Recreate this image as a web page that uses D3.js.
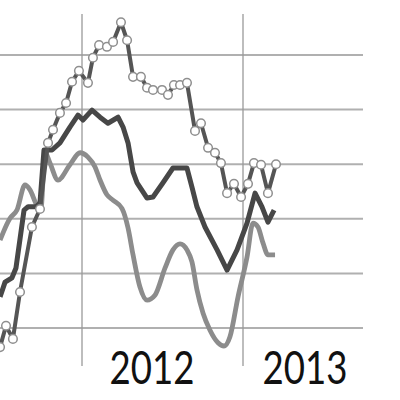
<!DOCTYPE html>
<html>
<head>
<meta charset="utf-8">
<script src="https://cdnjs.cloudflare.com/ajax/libs/d3/7.8.5/d3.min.js"></script>
<style>
  html, body { margin: 0; padding: 0; background: #fff; }
  svg { display: block; }
</style>
</head>
<body>
<div id="chart"></div>
<script>
// decimal years, values
const seriesAYears = [2011.491, 2011.528, 2011.571, 2011.615, 2011.689, 2011.739, 2011.789, 2011.820, 2011.863, 2011.901,
  2011.938, 2011.981, 2012.037, 2012.068, 2012.106, 2012.155, 2012.193, 2012.242, 2012.280, 2012.317,
  2012.366, 2012.404, 2012.441, 2012.497, 2012.534, 2012.571, 2012.609, 2012.652, 2012.702, 2012.739,
  2012.783, 2012.826, 2012.863, 2012.901, 2012.944, 2012.988, 2013.031, 2013.068, 2013.112, 2013.155, 2013.205];
const seriesAValues = [-3.5, 0.4, -2.0, 6.6, 18.5, 21.8, 33.9, 36.3, 39.4, 41.2,
  45.1, 47.1, 44.9, 49.5, 51.8, 51.5, 52.4, 56.0, 52.7, 46.0,
  46.0, 44.0, 43.6, 43.6, 42.7, 44.5, 44.5, 44.9, 36.1, 37.5,
  33.0, 32.1, 30.2, 24.7, 26.4, 24.0, 26.4, 30.2, 29.9, 24.7, 30.0];

const seriesBYears = [2011.491, 2011.522, 2011.565, 2011.590, 2011.640, 2011.665, 2011.714, 2011.739, 2011.764, 2011.814,
  2011.863, 2011.925, 2011.975, 2012.006, 2012.062, 2012.112, 2012.161, 2012.224, 2012.255, 2012.286,
  2012.317, 2012.342, 2012.404, 2012.441, 2012.503, 2012.565, 2012.652, 2012.683, 2012.714, 2012.764,
  2012.839, 2012.901, 2012.963, 2013.025, 2013.075, 2013.118, 2013.155, 2013.193];
const seriesBValues = [5.7, 8.4, 9.2, 11.0, 21.6, 22.2, 22.2, 22.9, 32.6, 32.6,
  33.9, 36.8, 39.0, 38.1, 39.9, 38.6, 37.5, 38.6, 36.8, 33.9,
  28.6, 26.6, 23.8, 24.0, 26.6, 29.3, 29.3, 25.8, 22.2, 18.5,
  14.3, 10.6, 14.3, 19.2, 24.7, 22.2, 19.4, 21.6];

const seriesCYears = [2011.491, 2011.553, 2011.596, 2011.646, 2011.677, 2011.720, 2011.745, 2011.770, 2011.801, 2011.851,
  2011.925, 2011.988, 2012.037, 2012.081, 2012.112, 2012.155, 2012.193, 2012.248, 2012.286, 2012.317,
  2012.360, 2012.404, 2012.453, 2012.516, 2012.565, 2012.609, 2012.652, 2012.683, 2012.714, 2012.752,
  2012.795, 2012.845, 2012.882, 2012.919, 2012.969, 2013.025, 2013.062, 2013.093, 2013.124, 2013.155, 2013.199];
const seriesCValues = [16.1, 20.1, 21.6, 26.2, 25.3, 22.5, 21.9, 32.2, 30.2, 27.1,
  29.9, 32.1, 31.3, 29.5, 27.1, 24.4, 23.4, 21.9, 18.3, 13.4,
  7.5, 5.1, 6.0, 11.0, 14.3, 15.4, 14.3, 12.1, 7.0, 2.7,
  -0.4, -2.7, -3.3, -1.6, 5.7, 13.0, 19.2, 18.5, 15.6, 13.4, 13.4];

const gridValues = [0, 10, 20, 30, 40, 50];
const yearTicks = [2012, 2013];
const yearLabels = ["2012", "2013"];

const width = 400, height = 400;

const x = d3.scaleLinear().domain([2012, 2013]).range([82, 243]);
const y = d3.scaleLinear().domain([0, 50]).range([328, 55]);

const svg = d3.select("#chart").append("svg")
  .attr("width", width)
  .attr("height", height);

// horizontal grid
svg.append("g")
  .selectAll("line")
  .data(gridValues)
  .join("line")
  .attr("x1", 0)
  .attr("x2", 363)
  .attr("y1", d => y(d))
  .attr("y2", d => y(d))
  .attr("stroke", "#b0b0b0")
  .attr("stroke-width", 2);

// year lines
svg.append("g")
  .selectAll("line")
  .data(yearTicks)
  .join("line")
  .attr("x1", d => x(d))
  .attr("x2", d => x(d))
  .attr("y1", 14)
  .attr("y2", 366)
  .attr("stroke", "#9a9a9a")
  .attr("stroke-width", 1.3);

// year labels
const labelOffset = [70, 62];
svg.append("g")
  .selectAll("text")
  .data(yearTicks)
  .join("text")
  .attr("x", (d, i) => x(d) + labelOffset[i])
  .attr("y", 384)
  .attr("text-anchor", "middle")
  .attr("font-family", "Lato, 'Open Sans', sans-serif")
  .attr("font-size", 47)
  .attr("fill", "#111")
  .attr("textLength", 85)
  .attr("lengthAdjust", "spacingAndGlyphs")
  .text((d, i) => yearLabels[i]);

const zip = (xs, vs) => xs.map((t, i) => ({ t: t, v: vs[i] }));
const dataA = zip(seriesAYears, seriesAValues);
const dataB = zip(seriesBYears, seriesBValues);
const dataC = zip(seriesCYears, seriesCValues);

const line = d3.line().x(d => x(d.t)).y(d => y(d.v));
const smooth = d3.line().x(d => x(d.t)).y(d => y(d.v)).curve(d3.curveMonotoneX);

svg.append("path")
  .datum(dataC)
  .attr("d", smooth)
  .attr("fill", "none")
  .attr("stroke", "#8c8c8c")
  .attr("stroke-width", 4.8)
  .attr("stroke-linejoin", "round");

svg.append("path")
  .datum(dataB)
  .attr("d", line)
  .attr("fill", "none")
  .attr("stroke", "#474747")
  .attr("stroke-width", 5)
  .attr("stroke-linejoin", "round");

svg.append("path")
  .datum(dataA)
  .attr("d", line)
  .attr("fill", "none")
  .attr("stroke", "#555")
  .attr("stroke-width", 4)
  .attr("stroke-linejoin", "round");

svg.append("g")
  .selectAll("circle")
  .data(dataA)
  .join("circle")
  .attr("cx", d => x(d.t))
  .attr("cy", d => y(d.v))
  .attr("r", 4.3)
  .attr("fill", "#fff")
  .attr("stroke", "#8f8f8f")
  .attr("stroke-width", 1.5);
</script>
</body>
</html>
